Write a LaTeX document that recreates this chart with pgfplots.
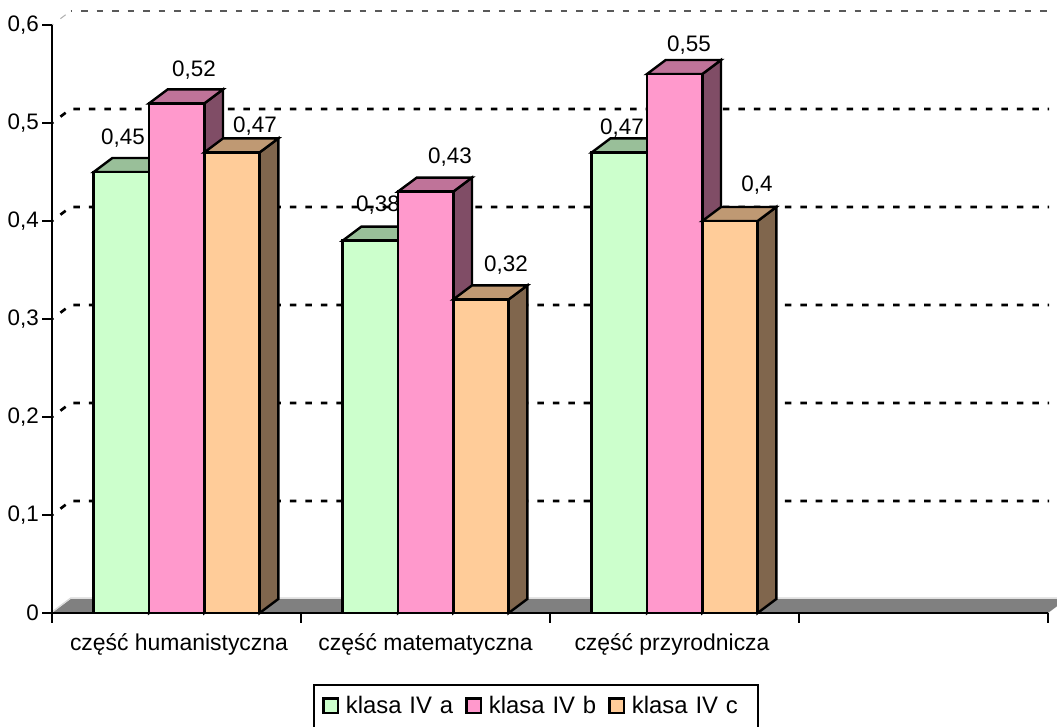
\documentclass[border=0pt]{standalone}
\usepackage{pgfplots}
\usepackage{fontspec}
\setmainfont{Liberation Sans}
\pgfplotsset{compat=1.18}

\definecolor{grA}{HTML}{CCFFCC}\definecolor{grAtop}{HTML}{99BF99}\definecolor{grAside}{HTML}{668066}
\definecolor{grB}{HTML}{FF99CC}\definecolor{grBtop}{HTML}{BF7399}\definecolor{grBside}{HTML}{804D66}
\definecolor{grC}{HTML}{FFCC99}\definecolor{grCtop}{HTML}{BF9973}\definecolor{grCside}{HTML}{80664D}

% depth of the 3d effect and bar width, in data units
\newcommand{\dx}{0.0751}
\newcommand{\dy}{0.0143}
\newcommand{\bw}{0.2221}
\newcommand{\chartfont}{\fontsize{16.8}{20}\selectfont}

% #1 left edge of the bar, #2 value, #3 side colour, #4 top colour
\newcommand{\barfaces}[4]{%
  \addplot[forget plot,fill=#3,face] coordinates {(#1+\bw,0) (#1+\bw+\dx,\dy) (#1+\bw+\dx,#2+\dy) (#1+\bw,#2)} -- cycle;
  \addplot[forget plot,fill=#4,face] coordinates {(#1,#2) (#1+\dx,#2+\dy) (#1+\bw+\dx,#2+\dy) (#1+\bw,#2)} -- cycle;
}
% back wall line: value #1, from the y axis along the wall
\newcommand{\wallline}[1]{%
  \addplot[forget plot,black,line width=2pt,dash pattern=on 4.9pt off 6.7pt,dash phase=3.7pt] coordinates {(0,#1) (\dx,#1+\dy) (4.004,#1+\dy)};
}
% data label, given by the pixel position of its baseline
\newcommand{\vlabel}[3]{\node[anchor=base,font=\chartfont,inner sep=0pt] at (axis cs:{(#1-52)/249},{(613-#2)/980}) {#3};}
\newcommand{\legendfont}{\fontsize{17.9}{20}\selectfont\spaceskip=0.33em\relax}

\begin{document}
\begin{tikzpicture}
\path[clip,use as bounding box] (-39pt,-84.75pt) rectangle ++(792.75pt,544.5pt);
\begin{axis}[
  scale only axis,width=747pt,height=441pt,
  xmin=0,xmax=4,ymin=0,ymax=0.6,
  clip=false,axis on top,
  axis x line=bottom,axis y line=left,
  axis line style={-,line width=1.8pt,black},
  tick style={line width=1.8pt,black},
  tick align=outside,major tick length=7.3pt,
  xtick={0,1,2,3,4},xticklabels={},
  extra x ticks={0.51,1.5,2.49},
  extra x tick labels={część humanistyczna,część matematyczna,część przyrodnicza},
  extra x tick style={major tick length=0pt,tick style={draw=none}},
  x tick label style={font=\fontsize{17.2}{20}\selectfont,yshift=-12pt},
  ytick={0,0.1,0.2,0.3,0.4,0.5,0.6},
  y tick label style={font=\chartfont,xshift=1pt},
  yticklabel style={/pgf/number format/.cd,fixed,precision=1,use comma},
  /pgf/number format/assume math mode=true,
  face/.style={draw=black,line width=1.8pt,line join=miter},
  front/.style={ybar,bar shift=0pt,bar width=\bw,draw=black,line width=1.8pt,
    legend image code/.code={\draw[##1,draw=black,line width=1.8pt] (0pt,-5.5pt) rectangle (11pt,5.5pt);}},
  legend columns=3,
  legend style={draw=none,fill=none,font=\legendfont,
    at={(axis cs:1.084,-0.082)},anchor=north west,inner sep=0pt,
    /tikz/every odd column/.append style={column sep=3pt},
    /tikz/every even column/.append style={column sep=7pt}},
]
% floor
\addplot[forget plot,fill=gray,draw=none] coordinates {(0,0) (\dx,\dy) (4.0751,\dy) (4,0)} -- cycle;
\addplot[forget plot,draw=gray!30,line width=0.9pt] coordinates {(0,0.001) (\dx,\dy+0.001) (4.0751,\dy+0.001)};
% back wall
\addplot[forget plot,black!65,line width=0.8pt,dash pattern=on 4.9pt off 6.7pt,dash phase=3.7pt] coordinates {(\dx,0.6143) (4.004,0.6143)};
\addplot[forget plot,gray!60,line width=0.8pt,dash pattern=on 4.9pt off 6.7pt,dash phase=3.7pt] coordinates {(0,0.6) (\dx,0.6143)};
\wallline{0.1}\wallline{0.2}\wallline{0.3}\wallline{0.4}\wallline{0.5}

% klasa IV a
\barfaces{0.1675}{0.45}{grAside}{grAtop}
\barfaces{1.1675}{0.38}{grAside}{grAtop}
\barfaces{2.1675}{0.47}{grAside}{grAtop}
\addplot[front,fill=grA] coordinates {(0.2785,0.45) (1.2785,0.38) (2.2785,0.47)};
\addlegendentry{klasa IV a}
% klasa IV b
\barfaces{0.3896}{0.52}{grBside}{grBtop}
\barfaces{1.3896}{0.43}{grBside}{grBtop}
\barfaces{2.3896}{0.55}{grBside}{grBtop}
\addplot[front,fill=grB] coordinates {(0.5006,0.52) (1.5006,0.43) (2.5006,0.55)};
\addlegendentry{klasa IV b}
% klasa IV c
\barfaces{0.6117}{0.47}{grCside}{grCtop}
\barfaces{1.6117}{0.32}{grCside}{grCtop}
\barfaces{2.6117}{0.40}{grCside}{grCtop}
\addplot[front,fill=grC] coordinates {(0.7227,0.47) (1.7227,0.32) (2.7227,0.40)};
\addlegendentry{klasa IV c}

\vlabel{123}{144}{0,45}\vlabel{194}{76.7}{0,52}\vlabel{255}{132.3}{0,47}
\vlabel{378}{211.7}{0,38}\vlabel{450}{163.3}{0,43}\vlabel{506}{271}{0,32}
\vlabel{622}{134.3}{0,47}\vlabel{689}{51.7}{0,55}\vlabel{757}{191.7}{0,4}

% legend frame, runs off the bottom of the picture
\draw[line width=1.8pt] (axis cs:{(314-52)/249},{(613-685)/980}) rectangle (axis cs:{(758-52)/249},-0.2);
\end{axis}
\end{tikzpicture}
\end{document}
